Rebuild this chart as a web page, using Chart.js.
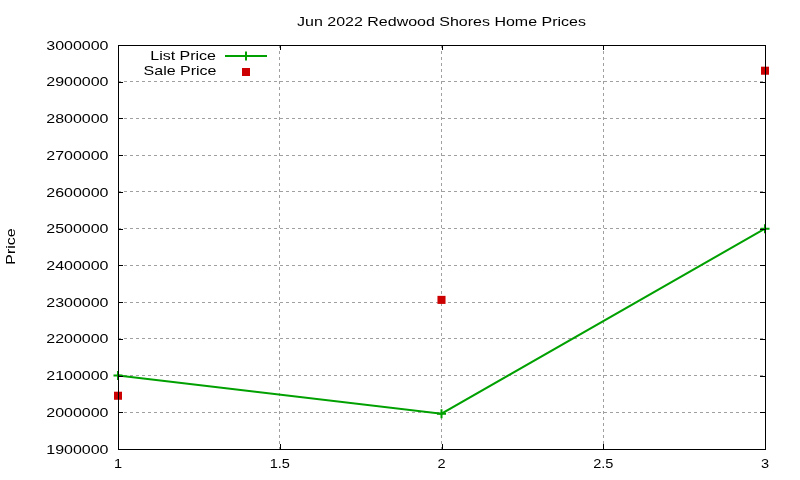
<!DOCTYPE html>
<html>
<head>
<meta charset="utf-8">
<script src="https://cdn.jsdelivr.net/npm/chart.js@4.4.0/dist/chart.umd.min.js"></script>
<style>
  html, body { margin: 0; padding: 0; background: #fff; }
  #wrap { width: 800px; height: 480px; }
</style>
</head>
<body>
<div id="wrap"><canvas id="c" width="800" height="480"></canvas></div>
<script>
const titleText = "Jun 2022 Redwood Shores Home Prices";
const yAxisTitle = "Price";
const xValues = [1, 2, 3];
const listPrice = [2100000, 1996000, 2500000];
const salePrice = [2045000, 2306000, 2930000];
const seriesNames = ["List Price", "Sale Price"];
const xTickLabels = ["1", "1.5", "2", "2.5", "3"];

const FONT = '13px "Liberation Sans", Arial, sans-serif';
const SX = 1.23;
const GREEN = '#00a000';
const RED = '#cc0000';

function sText(ctx, text, x, y, align, sx) {
  ctx.save();
  ctx.translate(x, y);
  ctx.scale(sx || SX, 1);
  ctx.textAlign = align;
  ctx.textBaseline = 'alphabetic';
  ctx.fillText(text, 0, 0);
  ctx.restore();
}

const gnuplotDecor = {
  id: 'gnuplotDecor',
  afterDraw(chart) {
    const ctx = chart.ctx;
    const a = chart.chartArea;
    const xs = chart.scales.x, ys = chart.scales.y;
    ctx.save();
    // border
    ctx.strokeStyle = '#000';
    ctx.lineWidth = 1;
    ctx.setLineDash([]);
    ctx.strokeRect(Math.round(a.left) + 0.5, Math.round(a.top) + 0.5,
                   Math.round(a.right - a.left), Math.round(a.bottom - a.top));
    // ticks (inside, mirrored)
    const TL = 5;
    ctx.beginPath();
    ys.ticks.forEach(t => {
      const y = Math.round(ys.getPixelForValue(t.value)) + 0.5;
      ctx.moveTo(a.left, y); ctx.lineTo(a.left + TL, y);
      ctx.moveTo(a.right, y); ctx.lineTo(a.right - TL, y);
    });
    xs.ticks.forEach(t => {
      const x = Math.round(xs.getPixelForValue(t.value)) + 0.5;
      ctx.moveTo(x, a.bottom); ctx.lineTo(x, a.bottom - TL);
      ctx.moveTo(x, a.top); ctx.lineTo(x, a.top + TL);
    });
    ctx.stroke();
    // tick labels
    ctx.fillStyle = '#000';
    ctx.font = FONT;
    ys.ticks.forEach(t => {
      const y = ys.getPixelForValue(t.value);
      sText(ctx, String(t.value), a.left - 9.5, y + 4.6, 'right');
    });
    xs.ticks.forEach((t, i) => {
      const x = xs.getPixelForValue(t.value);
      sText(ctx, xTickLabels[i] !== undefined ? xTickLabels[i] : String(t.value), x, 468, 'center', 1.12);
    });
    // title
    sText(ctx, titleText, (a.left + a.right) / 2, 26, 'center');
    // y axis title
    ctx.save();
    ctx.translate(15, 246.5);
    ctx.rotate(-Math.PI / 2);
    ctx.scale(SX, 1);
    ctx.textAlign = 'center';
    ctx.fillText(yAxisTitle, 0, 0);
    ctx.restore();
    // legend
    sText(ctx, seriesNames[0], 216, 59.5, 'right');
    sText(ctx, seriesNames[1], 216.5, 74.5, 'right');
    ctx.strokeStyle = GREEN;
    ctx.lineWidth = 2;
    ctx.beginPath();
    ctx.moveTo(225, 56); ctx.lineTo(267, 56);
    ctx.moveTo(246, 51.5); ctx.lineTo(246, 60.5);
    ctx.stroke();
    ctx.fillStyle = RED;
    ctx.fillRect(242, 68, 8, 8);
    ctx.restore();
  }
};

const chart = new Chart(document.getElementById('c'), {
  type: 'line',
  data: {
    datasets: [
      {
        label: seriesNames[0],
        data: xValues.map((x, i) => ({ x: x, y: listPrice[i] })),
        borderColor: GREEN,
        backgroundColor: GREEN,
        borderWidth: 2,
        pointStyle: 'cross',
        pointRadius: 4.5,
        pointBorderWidth: 2,
        pointBorderColor: GREEN,
        tension: 0,
        fill: false,
        clip: false
      },
      {
        label: seriesNames[1],
        data: xValues.map((x, i) => ({ x: x, y: salePrice[i] })),
        showLine: false,
        borderColor: RED,
        backgroundColor: RED,
        pointStyle: 'rect',
        pointRadius: 5.7,
        pointBorderWidth: 0,
        clip: false
      }
    ]
  },
  options: {
    responsive: false,
    animation: false,
    devicePixelRatio: 1,
    layout: { padding: { left: 118, right: 35, top: 45, bottom: 31 } },
    plugins: {
      legend: { display: false },
      title: { display: false },
      tooltip: { enabled: false }
    },
    scales: {
      x: {
        type: 'linear',
        min: 1, max: 3,
        ticks: { display: false, stepSize: 0.5 },
        grid: { color: '#a0a0a0', lineWidth: 1, drawTicks: false },
        border: { display: false, dash: [3, 3] }
      },
      y: {
        type: 'linear',
        min: 1900000, max: 3000000,
        ticks: { display: false, stepSize: 100000 },
        grid: { color: '#a0a0a0', lineWidth: 1, drawTicks: false },
        border: { display: false, dash: [3, 3] }
      }
    }
  },
  plugins: [gnuplotDecor]
});
</script>
</body>
</html>
